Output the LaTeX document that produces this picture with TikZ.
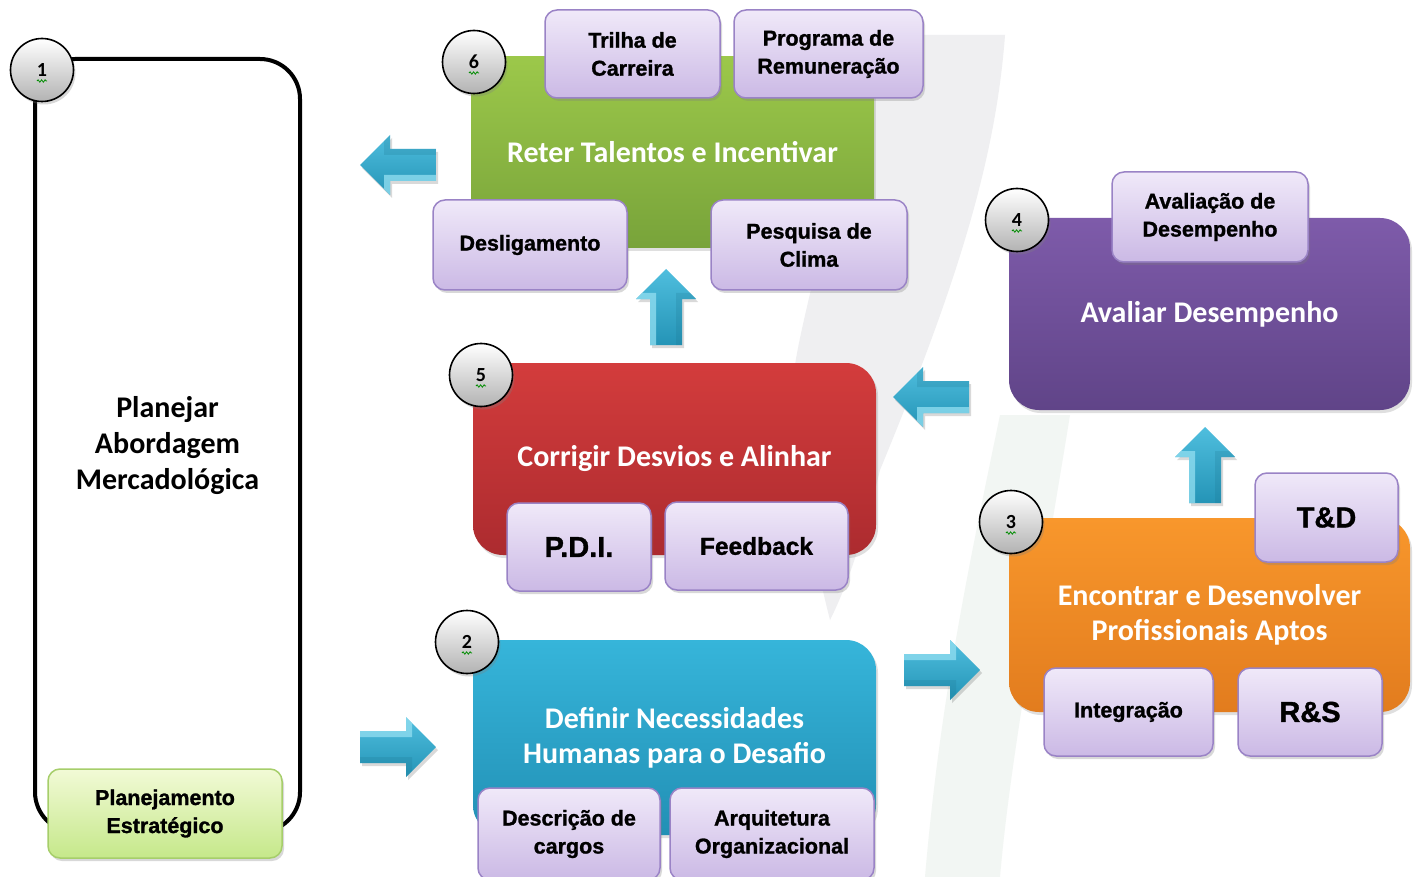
\documentclass[tikz,border=0pt]{standalone}
\usepackage{fontspec}
\setmainfont{Carlito}
\newfontfamily\arialf{Liberation Sans}[BoldFeatures={FakeBold=1.2}]
\usetikzlibrary{shadows,decorations.pathmorphing}
\definecolor{grT}{HTML}{9CC84A}\definecolor{grB}{HTML}{78A33A}
\definecolor{puT}{HTML}{7E5BAA}\definecolor{puB}{HTML}{604488}
\definecolor{reT}{HTML}{D33C3C}\definecolor{reB}{HTML}{AC2B2F}
\definecolor{orT}{HTML}{F8972C}\definecolor{orB}{HTML}{E27C1E}
\definecolor{blT}{HTML}{36B5DA}\definecolor{blB}{HTML}{2290B5}
\definecolor{suT}{HTML}{F0E9F9}\definecolor{suB}{HTML}{CBB9E5}\definecolor{suD}{HTML}{9A83C6}
\definecolor{plT}{HTML}{F2FAD6}\definecolor{plB}{HTML}{C5E88A}\definecolor{plD}{HTML}{A6CE6A}
\definecolor{arL}{HTML}{8EDCEF}\definecolor{arM}{HTML}{3AB4D8}\definecolor{arD}{HTML}{1F8CAE}
\definecolor{swoosh}{HTML}{EFEFF1}\definecolor{swooshg}{HTML}{F2F6F3}
\tikzset{
  mainbox/.style={anchor=north west, inner sep=0pt, outer sep=0pt, align=center, text=white,
    font=\bfseries\fontsize{30}{35}\selectfont,
    drop shadow={shadow xshift=2pt, shadow yshift=-3pt, opacity=0.25}},
  subbox/.style={anchor=north west, inner sep=0pt, outer sep=0pt, align=center,
    draw=suD, line width=1.5pt, rounded corners=12pt, top color=suT, bottom color=suB,
    font=\arialf\bfseries\fontsize{21.5}{28}\selectfont,
    drop shadow={shadow xshift=2pt, shadow yshift=-3pt, opacity=0.3}},
  bigtext/.style={font=\arialf\bfseries\fontsize{29}{34}\selectfont},
  numcirc/.style={circle, draw=black, line width=1.6pt, minimum size=63pt, inner sep=0pt,
    top color=white, bottom color=black!30, font=\bfseries\fontsize{20}{24}\selectfont,
    drop shadow={shadow xshift=2pt, shadow yshift=-3pt, opacity=0.3}},
  squig/.style={green!55!black, line width=0.8pt, decorate, decoration={snake, amplitude=1.2pt, segment length=3.5pt}},
}
\newcommand\arrowpath{(-38,-16) -- (8,-16) -- (8,-30) -- (38,0) -- (8,30) -- (8,16) -- (-38,16) -- cycle}
\newcommand\blockarrow[4]{% name, x, y, angle
  \begin{scope}[shift={(#2+2,#3+3)}, rotate=#4]
    \fill[black, opacity=0.15] \arrowpath;
  \end{scope}
  \begin{scope}[shift={(#2,#3)}, rotate=#4]
    \shade[top color=arM!75!arL, bottom color=arD!80!arM] \arrowpath;
    \fill[arL, opacity=0.8] (-38,-16) -- (8,-16) -- (8,-30) -- (14,-24) -- (14,-10) -- (-38,-10) -- cycle;
    \fill[arD!80!black, opacity=0.2] (-38,16) -- (8,16) -- (8,30) -- (14,24) -- (14,10) -- (-38,10) -- cycle;
    \coordinate (#1) at (0,0);
  \end{scope}}
\begin{document}
\begin{tikzpicture}[x=1pt,y=-1pt]
\useasboundingbox[fill=white] (0,0) rectangle (1413,877);
% faint background swooshes
\fill[swoosh] (850,35) -- (1005,35) .. controls (995,170) and (950,300) .. (880,470)
  .. controls (865,530) and (850,580) .. (830,620) .. controls (800,500) and (790,420) .. (795,365)
  .. controls (805,300) and (840,200) .. cycle;
\fill[swooshg] (1000,415) -- (1070,415) .. controls (1040,600) and (1010,760) .. (1000,877) -- (925,877)
  .. controls (940,700) and (970,560) .. cycle;
% main boxes
\node[mainbox, top color=grT, bottom color=grB, minimum width=403pt, minimum height=191pt] (reter) at (471,57) {Reter Talentos e Incentivar};
\node[mainbox, rounded corners=30pt, top color=puT, bottom color=puB, minimum width=401pt, minimum height=192pt] (avaliar) at (1009,218) {Avaliar Desempenho};
\node[mainbox, rounded corners=30pt, top color=reT, bottom color=reB, minimum width=403pt, minimum height=192pt] (corrigir) at (473,363) {Corrigir Desvios e Alinhar};
\node[mainbox, rounded corners=30pt, top color=orT, bottom color=orB, minimum width=401pt, minimum height=194pt] (encontrar) at (1009,518) {Encontrar e Desenvolver\\Profissionais Aptos};
\node[mainbox, rounded corners=30pt, top color=blT, bottom color=blB, minimum width=403pt, minimum height=195pt] (definir) at (473,640) {Definir Necessidades\\Humanas para o Desafio};
% step 1 frame
\node[anchor=north west, draw=black, line width=4pt, rounded corners=40pt, minimum width=265pt, minimum height=773pt,
  inner sep=0pt, align=center, font=\bfseries\fontsize{30}{36}\selectfont] (planejar) at (33,57) {Planejar\\Abordagem\\Mercadológica};
% sub boxes
\node[subbox, minimum width=175pt, minimum height=88pt] (trilha) at (545,10) {Trilha de\\Carreira};
\node[subbox, minimum width=189pt, minimum height=88pt] (programa) at (734,10) {Programa de\\Remuneração};
\node[subbox, minimum width=194pt, minimum height=90pt] (deslig) at (433,200) {Desligamento};
\node[subbox, minimum width=196pt, minimum height=90pt] (pesquisa) at (711,200) {Pesquisa de\\Clima};
\node[subbox, minimum width=196pt, minimum height=90pt] (avaliacao) at (1112,172) {Avaliação de\\Desempenho};
\node[subbox, bigtext, minimum width=144pt, minimum height=88pt] (pdi) at (507,503) {P.D.I.};
\node[subbox, font=\arialf\bfseries\fontsize{24.5}{28}\selectfont, minimum width=183pt, minimum height=88pt] (feedback) at (665,502) {Feedback};
\node[subbox, bigtext, minimum width=143pt, minimum height=89pt] (td) at (1255,473) {T\&D};
\node[subbox, minimum width=169pt, minimum height=88pt] (integracao) at (1044,668) {Integração};
\node[subbox, bigtext, minimum width=144pt, minimum height=88pt] (rs) at (1238,668) {R\&S};
\node[subbox, minimum width=182pt, minimum height=92pt] (descricao) at (478,788) {Descrição de\\cargos};
\node[subbox, minimum width=204pt, minimum height=92pt] (arquitetura) at (670,788) {Arquitetura\\Organizacional};
\node[subbox, draw=plD, top color=plT, bottom color=plB, minimum width=234pt, minimum height=89pt] (planest) at (48,769) {Planejamento\\Estratégico};
% number circles
\foreach \n/\x/\y in {1/42/70, 6/474/62, 5/481/375, 4/1017/220, 3/1011/522, 2/467/642} {
  \node[numcirc] (c\n) at (\x,\y) {\n};
  \draw[squig] ([xshift=-5pt,yshift=-11pt]c\n.center) -- ([xshift=5pt,yshift=-11pt]c\n.center);
}
% block arrows
\blockarrow{a1}{398}{165}{180}
\blockarrow{a2}{666}{307}{90}
\blockarrow{a3}{931}{397}{180}
\blockarrow{a4}{1205}{465}{90}
\blockarrow{a5}{942}{670}{0}
\blockarrow{a6}{398}{747}{0}
\end{tikzpicture}
\end{document}
